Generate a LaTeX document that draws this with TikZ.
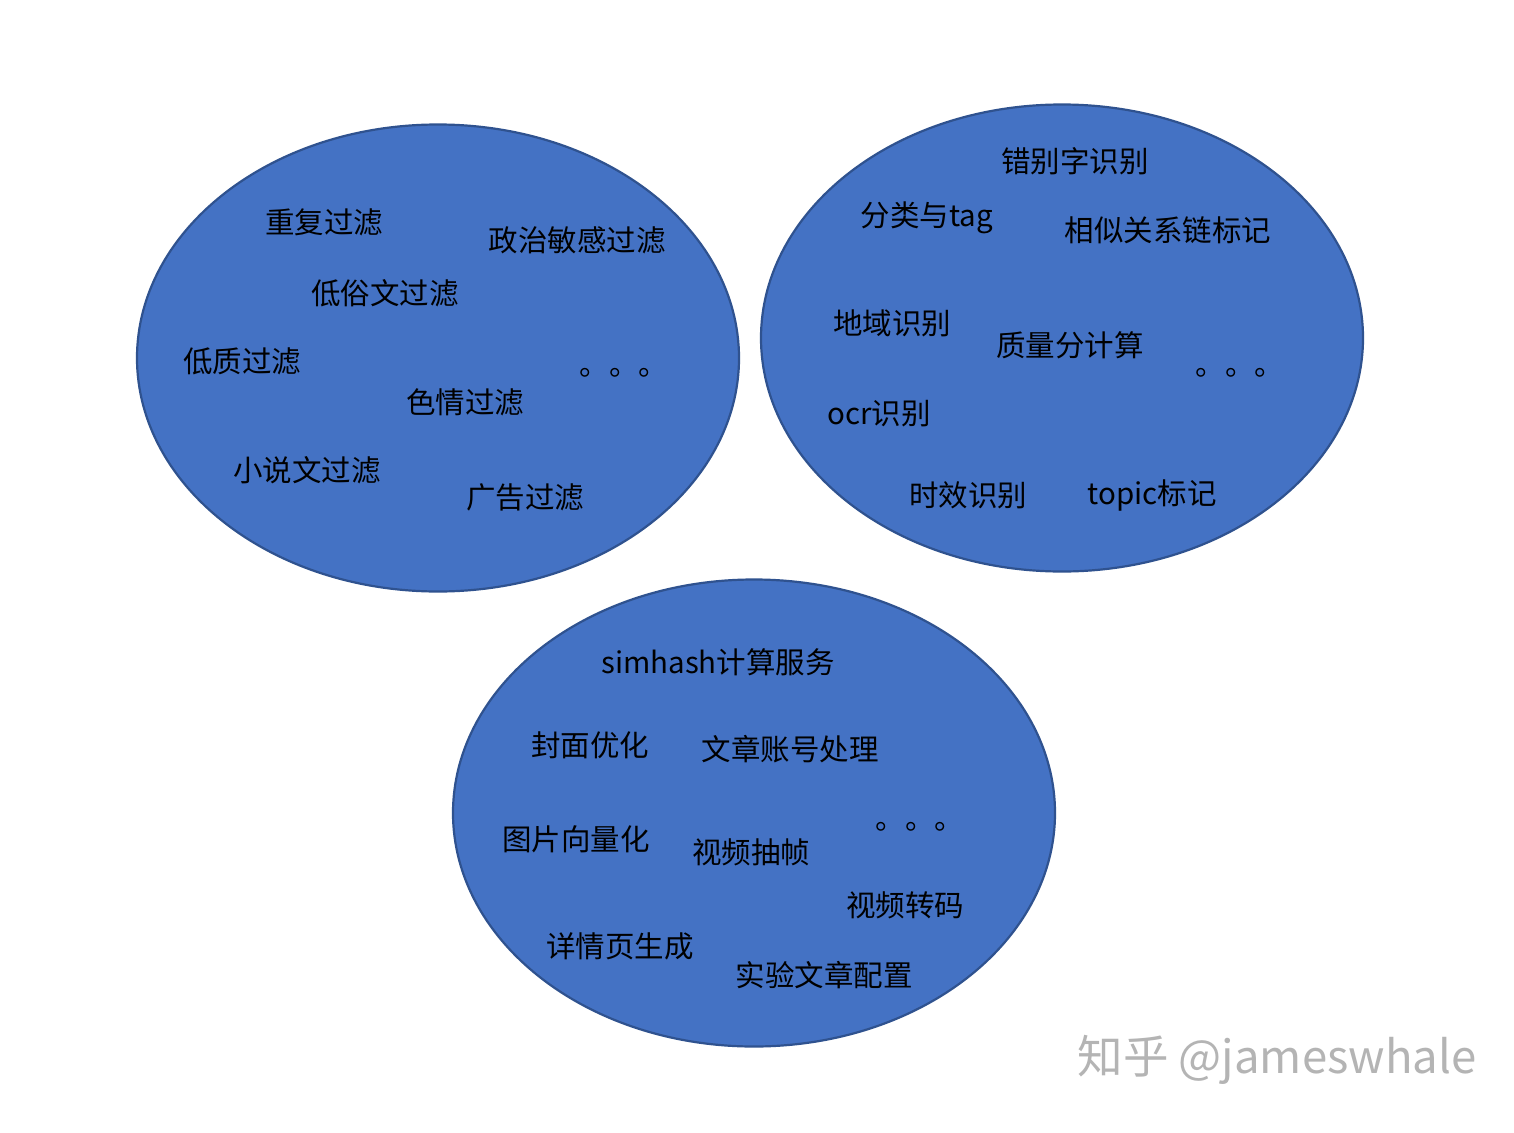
\documentclass[tikz,border=0pt]{standalone}
\usepackage{fontspec}
\setmainfont{Noto Sans CJK SC}
\usetikzlibrary{shapes.geometric}
\definecolor{ellfill}{HTML}{4472C4}
\definecolor{elledge}{HTML}{2F528F}
\definecolor{wm}{HTML}{B4B4B4}
\tikzset{
  blob/.style={ellipse, fill=ellfill, draw=elledge, line width=2.2pt, inner sep=0pt},
  lbl/.style={inner sep=0pt, font=\fontsize{29.5}{34}\selectfont, text=black},
  dots/.style={inner sep=0pt, font=\fontsize{29.5}{34}\selectfont, text=black},
  wmark/.style={inner sep=0pt, font=\fontsize{45.5}{52}\selectfont, text=wm}
}
\begin{document}
\begin{tikzpicture}[x=1pt,y=-1pt]
\useasboundingbox (0,0) rectangle (1514,1132);
\fill[white] (0,0) rectangle (1514,1132);
% ellipses
\node[blob, minimum width=602pt, minimum height=467pt] (e1) at (438,358) {};
\node[blob, minimum width=602pt, minimum height=467pt] (e2) at (1062,338) {};
\node[blob, minimum width=602pt, minimum height=467pt] (e3) at (754,813) {};
% ellipse 1
\node[lbl] (a1) at (324,222) {重复过滤};
\node[lbl] (a2) at (577,240) {政治敏感过滤};
\node[lbl] (a3) at (385,293) {低俗文过滤};
\node[lbl] (a4) at (242,361) {低质过滤};
\node[lbl] (a5) at (465,402) {色情过滤};
\node[lbl] (a6) at (307,470) {小说文过滤};
\node[lbl] (a7) at (525,497) {广告过滤};
\node[dots] (a8) at (624,373) {。。。};
% ellipse 2
\node[lbl] (b1) at (1075,161) {错别字识别};
\node[lbl] (b2) at (927,218) {分类与tag};
\node[lbl] (b3) at (1168,230) {相似关系链标记};
\node[lbl] (b4) at (892,323) {地域识别};
\node[lbl] (b5) at (1070,345) {质量分计算};
\node[lbl] (b6) at (879,414) {ocr识别};
\node[lbl] (b7) at (968,495) {时效识别};
\node[lbl] (b8) at (1152,495) {topic标记};
\node[dots] (b9) at (1240,373) {。。。};
% ellipse 3
\node[lbl] (c1) at (718,662) {simhash计算服务};
\node[lbl] (c2) at (590,745) {封面优化};
\node[lbl] (c3) at (790,749) {文章账号处理};
\node[lbl] (c4) at (576,839) {图片向量化};
\node[lbl] (c5) at (751,852) {视频抽帧};
\node[lbl] (c6) at (905,905) {视频转码};
\node[lbl] (c7) at (620,946) {详情页生成};
\node[lbl] (c8) at (824,975) {实验文章配置};
\node[dots] (c9) at (920,827) {。。。};
% watermark
\node[wmark] (w) at (1277,1060) {知乎 @jameswhale};
\end{tikzpicture}
\end{document}
